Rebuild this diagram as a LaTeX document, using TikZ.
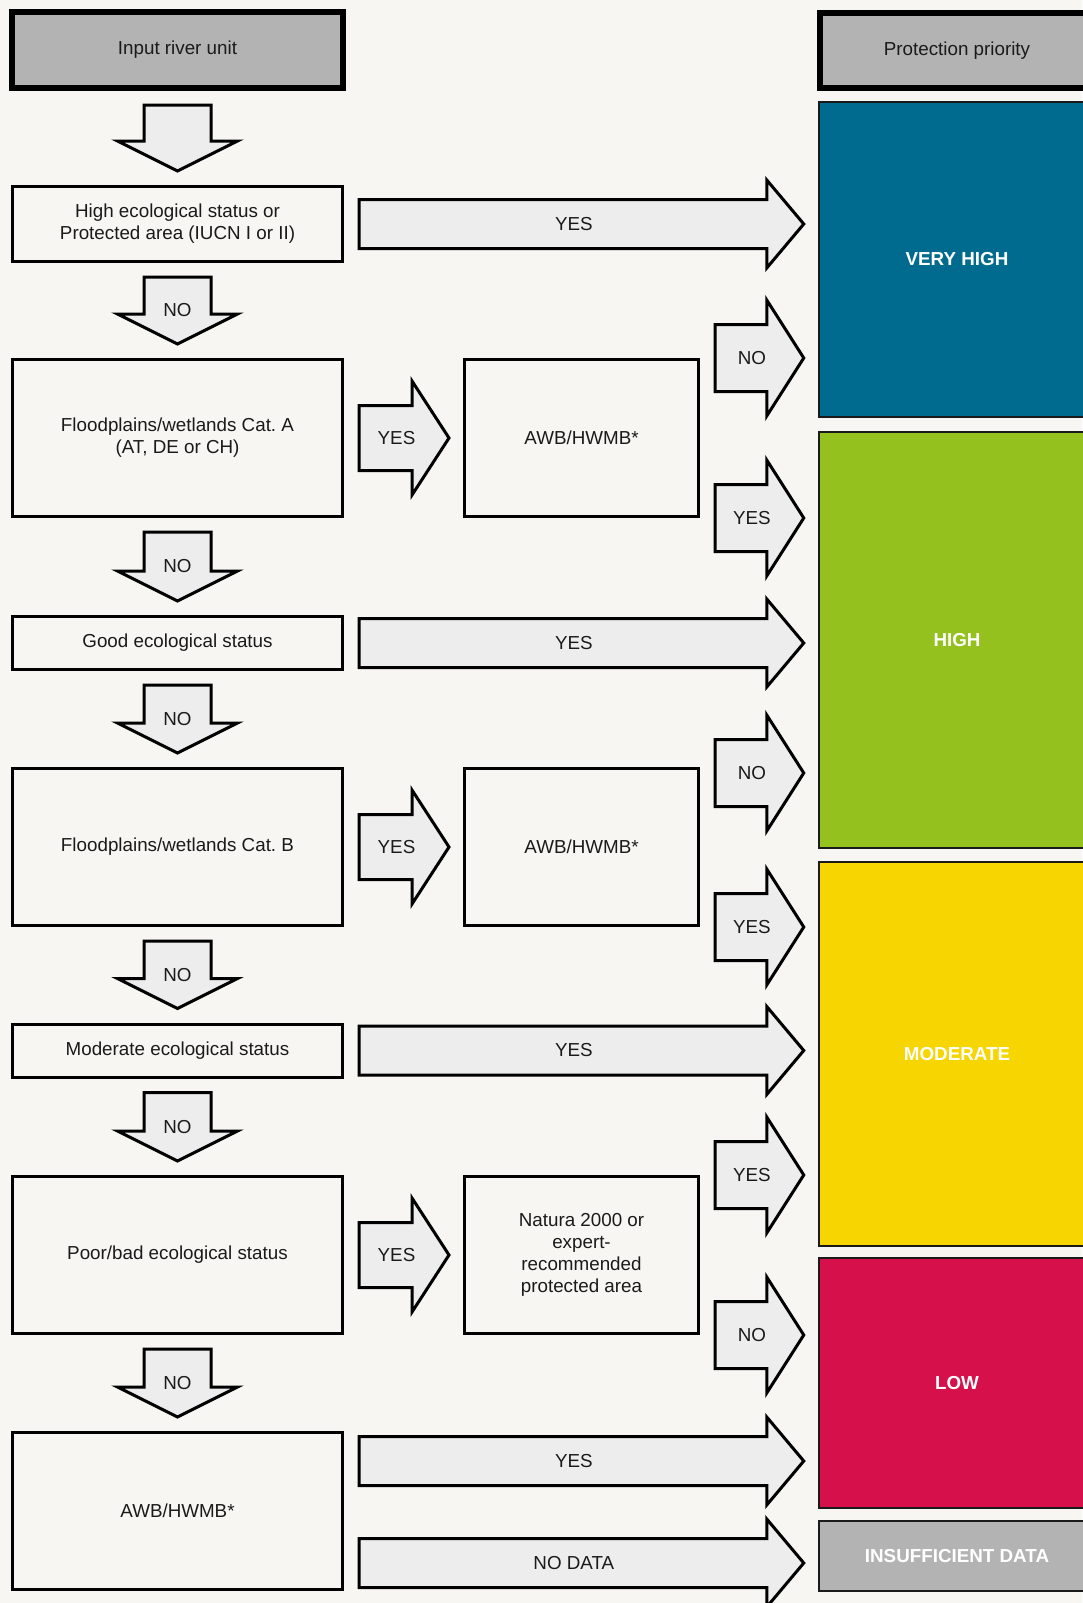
\documentclass[tikz,border=0pt]{standalone}
\usepackage{fontspec}
\setmainfont{Liberation Sans}
\usetikzlibrary{calc}
\frenchspacing

\definecolor{bgpaper}{HTML}{F7F6F2}
\definecolor{hdrgray}{HTML}{B3B3B3}
\definecolor{arrowfill}{HTML}{EDEDED}
\definecolor{vhblue}{HTML}{006B8E}
\definecolor{higreen}{HTML}{95C11F}
\definecolor{modyellow}{HTML}{F7D500}
\definecolor{lowred}{HTML}{D5104A}
\definecolor{inkdark}{HTML}{1A1A1A}

\tikzset{
  txt/.style={font=\fontsize{18.8}{22}\selectfont, text=inkdark, align=center},
  header/.style={txt, draw=black, line width=6pt, fill=hdrgray, inner sep=0pt},
  qbox/.style={txt, draw=black, line width=3pt, inner sep=0pt, minimum width=330pt},
  cbox/.style={draw=inkdark, line width=2.5pt, inner sep=0pt, minimum width=276pt,
    text=white, font=\fontsize{18.8}{22}\selectfont\bfseries},
  blockarrow/.style={draw=black, line width=3pt, fill=arrowfill},
  lbl/.style={txt}
}

% block arrow pointing down: from, to, label
\newcommand{\dnarrow}[3]{%
  \draw[blockarrow] let \p1=(#1), \p2=(#2) in
    (\x1-33.5,\y1-14) -- (\x1+33.5,\y1-14) -- (\x1+33.5,\y2+44) -- (\x1+60,\y2+44)
    -- (\x1,\y2+14) -- (\x1-60,\y2+44) -- (\x1-33.5,\y2+44) -- cycle;
  \path let \p1=(#1), \p2=(#2) in node[lbl] at (\x1,0.5*\y1+0.5*\y2) {#3};}

% block arrow pointing right: from, to, label, shaft half, head half
\newcommand{\rtarrow}[5]{%
  \draw[blockarrow] let \p1=(#1), \p2=(#2) in
    (\x1+15,\y1+#4) -- (\x2-51,\y1+#4) -- (\x2-51,\y1+#5) -- (\x2-14,\y1)
    -- (\x2-51,\y1-#5) -- (\x2-51,\y1-#4) -- (\x1+15,\y1-#4) -- cycle;
  \path let \p1=(#1), \p2=(#2) in node[lbl] at (0.5*\x1+0.5*\x2-7,\y1) {#3};}

\begin{document}
\begin{tikzpicture}[x=1pt, y=-1pt]
  \useasboundingbox (0,0) rectangle (1082,1603);
  \fill[bgpaper] (0,0) rectangle (1082,1603);

  % Headers
  \node[header, minimum width=331pt, minimum height=76pt] (inp) at (177.5,50) {Input river unit};
  \node[header, minimum width=274pt, minimum height=75pt] (pp) at (957,50.5) {Protection priority};

  % Questions
  \node[qbox, minimum height=75pt] (b1) at (177.5,224) {High ecological status or\\Protected area (IUCN I or II)};
  \node[qbox, minimum height=157pt] (b2) at (177.5,438) {Floodplains/wetlands Cat. A\\(AT, DE or CH)};
  \node[qbox, minimum height=53pt] (b3) at (177.5,643) {Good ecological status};
  \node[qbox, minimum height=157pt] (b4) at (177.5,847) {Floodplains/wetlands Cat. B};
  \node[qbox, minimum height=53pt] (b5) at (177.5,1050.5) {Moderate ecological status};
  \node[qbox, minimum height=157pt] (b6) at (177.5,1255) {Poor/bad ecological status};
  \node[qbox, minimum height=157pt] (b7) at (177.5,1511) {AWB/HWMB*};

  % Second checks
  \node[qbox, minimum width=234pt, minimum height=157pt] (awbA) at (581.5,438) {AWB/HWMB*};
  \node[qbox, minimum width=234pt, minimum height=157pt] (awbB) at (581.5,847) {AWB/HWMB*};
  \node[qbox, minimum width=234pt, minimum height=157pt] (nat) at (581.5,1255) {Natura 2000 or\\expert-\\recommended\\protected area};

  % Priority classes
  \node[cbox, fill=vhblue, minimum height=315pt] (vh) at (957,259.5) {VERY HIGH};
  \node[cbox, fill=higreen, minimum height=416pt] (hi) at (957,640) {HIGH};
  \node[cbox, fill=modyellow, minimum height=384pt] (mo) at (957,1054) {MODERATE};
  \node[cbox, fill=lowred, minimum height=250pt] (lo) at (957,1383) {LOW};
  \node[cbox, fill=hdrgray, minimum height=70pt] (nd) at (957,1556) {INSUFFICIENT DATA};

  % Down arrows
  \dnarrow{inp.south}{b1.north}{}
  \foreach \u/\v in {b1/b2, b2/b3, b3/b4, b4/b5, b5/b6, b6/b7}
    {\dnarrow{\u.south}{\v.north}{NO}}

  % Long arrows to the priority column
  \rtarrow{b1.east}{vh.west}{YES}{24.5}{44}
  \rtarrow{b3.east}{hi.west}{YES}{24.5}{44}
  \rtarrow{b5.east}{mo.west}{YES}{24.5}{44}
  \rtarrow{$(b7.east)+(0,-50)$}{lo.west}{YES}{24.5}{44}
  \rtarrow{$(b7.east)+(0,52)$}{nd.west}{NO DATA}{24.5}{44}

  % Into the second checks
  \foreach \u/\v in {b2/awbA, b4/awbB, b6/nat}
    {\rtarrow{\u.east}{\v.west}{YES}{32.5}{57}}

  % Out of the second checks
  \rtarrow{awbA.north east}{vh.west}{NO}{33.5}{58}
  \rtarrow{awbA.south east}{hi.west}{YES}{33.5}{58}
  \rtarrow{$(awbB.north east)+(0,6)$}{hi.west}{NO}{33.5}{58}
  \rtarrow{awbB.south east}{mo.west}{YES}{33.5}{58}
  \rtarrow{nat.north east}{mo.west}{YES}{33.5}{58}
  \rtarrow{nat.south east}{lo.west}{NO}{33.5}{58}
\end{tikzpicture}
\end{document}
